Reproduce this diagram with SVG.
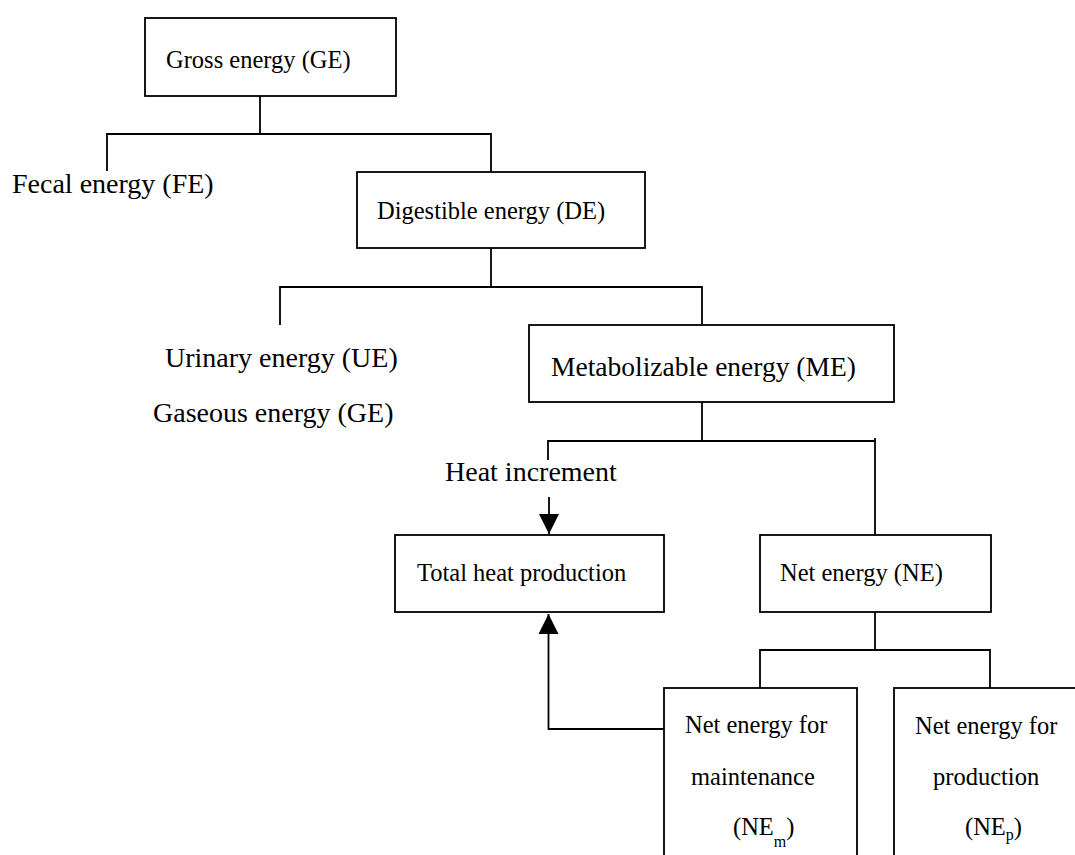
<svg xmlns="http://www.w3.org/2000/svg" width="1075" height="855" viewBox="0 0 1075 855">
  <style>
    .box { fill: #fff; stroke: #000; stroke-width: 1.8; }
    .conn { fill: none; stroke: #000; stroke-width: 1.8; }
    .t { font-family: "Liberation Serif", "Times New Roman", serif; fill: #000; }
    .s { font-size: 24.5px; }
    .l { font-size: 28px; }
    .sub { font-size: 16px; }
  </style>
  <defs>
    <marker id="arrow" markerUnits="userSpaceOnUse" markerWidth="20" markerHeight="21" refX="20" refY="10" orient="auto">
      <path d="M0,0 L20,10 L0,20 Z" fill="#000"/>
    </marker>
  </defs>
  <rect width="1075" height="855" fill="#fff"/>

  <g id="connectors">
    <path class="conn" d="M260 96 V134"/>
    <path class="conn" d="M107 171 V134 H491 V172"/>
    <path class="conn" d="M491 248 V287"/>
    <path class="conn" d="M280 325 V287 H702 V325"/>
    <path class="conn" d="M702 402 V441"/>
    <path class="conn" d="M548 460 V441 H875"/>
    <path class="conn" d="M875 438 V535"/>
    <path class="conn" d="M875 612 V650"/>
    <path class="conn" d="M760 688 V650 H990 V688"/>
    <path class="conn" d="M549 497 V534" marker-end="url(#arrow)"/>
    <path class="conn" d="M664 729 H548.5 V614" marker-end="url(#arrow)"/>
  </g>

  <g id="gross-energy">
    <rect class="box" x="145" y="18" width="251" height="78"/>
    <text class="t s" x="166" y="68">Gross energy (GE)</text>
  </g>
  <g id="fecal-energy">
    <text class="t l" x="12" y="193">Fecal energy (FE)</text>
  </g>
  <g id="digestible-energy">
    <rect class="box" x="357" y="172" width="288" height="76"/>
    <text class="t s" x="377" y="219">Digestible energy (DE)</text>
  </g>
  <g id="urinary-gaseous">
    <text class="t l" x="165" y="367">Urinary energy (UE)</text>
    <text class="t l" x="153" y="422">Gaseous energy (GE)</text>
  </g>
  <g id="metabolizable-energy">
    <rect class="box" x="529" y="325" width="365" height="77"/>
    <text class="t" font-size="27.5" x="551" y="376">Metabolizable energy (ME)</text>
  </g>
  <g id="heat-increment">
    <text class="t l" x="445" y="481">Heat increment</text>
  </g>
  <g id="total-heat-production">
    <rect class="box" x="395" y="535" width="269" height="77"/>
    <text class="t s" x="417" y="581">Total heat production</text>
  </g>
  <g id="net-energy">
    <rect class="box" x="760" y="535" width="231" height="77"/>
    <text class="t s" x="780" y="581">Net energy (NE)</text>
  </g>
  <g id="ne-maintenance">
    <rect class="box" x="664" y="688" width="193" height="200"/>
    <text class="t s" x="685" y="733">Net energy for</text>
    <text class="t s" x="691" y="785">maintenance</text>
    <text class="t s" x="733" y="835">(NE<tspan class="sub" dy="12">m</tspan><tspan dy="-12">)</tspan></text>
  </g>
  <g id="ne-production">
    <rect class="box" x="894" y="688" width="200" height="200"/>
    <text class="t s" x="915" y="734">Net energy for</text>
    <text class="t s" x="933" y="785">production</text>
    <text class="t s" x="965" y="835">(NE<tspan class="sub" dy="5">p</tspan><tspan dy="-5">)</tspan></text>
  </g>
</svg>
